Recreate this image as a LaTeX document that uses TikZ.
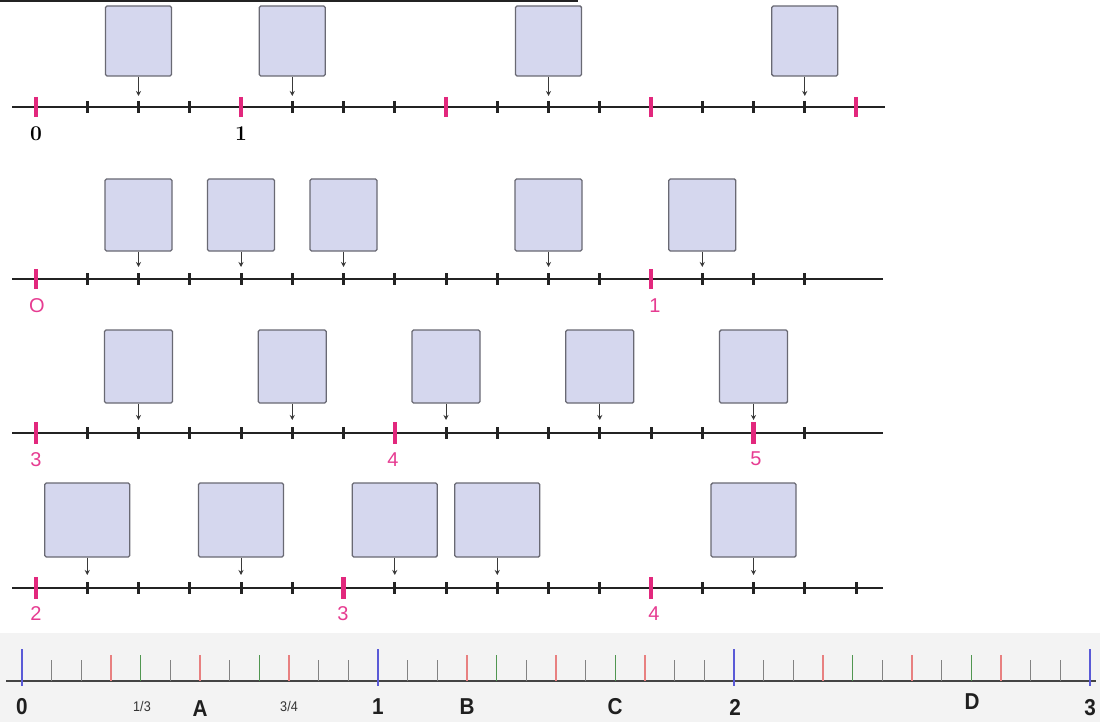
\documentclass[tikz,border=0pt]{standalone}
\usepackage{fontspec}
\newfontfamily\arialf{Liberation Sans}
\usetikzlibrary{arrows.meta}
\definecolor{pinkc}{RGB}{226,40,125}
\definecolor{pinklab}{RGB}{230,60,145}
\definecolor{boxfill}{RGB}{213,215,238}
\definecolor{boxline}{RGB}{105,105,115}
\definecolor{axisc}{RGB}{35,35,35}
\definecolor{bandc}{RGB}{243,243,243}
\definecolor{bluet}{RGB}{90,90,215}
\definecolor{redt}{RGB}{232,128,128}
\definecolor{greent}{RGB}{80,150,80}
\definecolor{grayt}{RGB}{130,130,130}
\tikzset{
  axis/.style={draw=axisc, line width=2.2pt},
  btick/.style={draw=axisc, line width=3pt},
  ptick/.style={draw=pinkc, line width=4.5pt},
  qbox/.style={draw=boxline, fill=boxfill, line width=1.4pt, rounded corners=1.5pt, inner sep=0pt, minimum width=#1, minimum height=71pt},
  arr/.style={draw=axisc!90, line width=1pt, -{Stealth[length=5pt,width=5pt]}},
  blab/.style={font=\fontsize{21}{21}\selectfont\bfseries, text=black, inner sep=0pt},
  plab/.style={font=\arialf\fontsize{20}{20}\selectfont, text=pinklab, inner sep=0pt},
  rlab/.style={font=\arialf\fontsize{23}{23}\selectfont\bfseries, text=black!88, inner sep=0pt, xscale=0.9},
  flab/.style={font=\arialf\fontsize{14}{14}\selectfont, text=black!80, inner sep=0pt, xscale=0.9},
  rmaj/.style={draw=bluet, line width=2.6pt},
  rmin/.style={line width=1.4pt}
}
\begin{document}
\begin{tikzpicture}[x=1pt,y=-1pt]
\useasboundingbox (0,0) rectangle (1100,722);
\def\sp{51.25}
% top rule
\draw[draw=axisc, line width=2pt] (0,1) -- (578,1);

% ---------- Row 1 ----------
\draw[axis] (12,107) -- (885,107);
\foreach \k in {0,...,16} {\draw[btick] ({36+\sp*\k},101) -- ({36+\sp*\k},113);}
\foreach \k in {0,4,8,12,16} {\draw[ptick] ({36+\sp*\k},97) -- ({36+\sp*\k},117);}
\foreach \k/\n in {2/a,5/b,10/c,15/d} {
  \node[qbox=66pt, minimum height=70pt] (r1\n) at ({36+\sp*\k},41) {};
  \coordinate (t1\n) at ({36+\sp*\k},96);
  \draw[arr] (r1\n.south) -- (t1\n);
}
\node[blab] (l1a) at (36,134) {0};
\node[blab] (l1b) at (241,134) {1};

% ---------- Row 2 ----------
\draw[axis] (12,279) -- (883,279);
\foreach \k in {0,...,15} {\draw[btick] ({36+\sp*\k},273) -- ({36+\sp*\k},285);}
\foreach \k in {0,12} {\draw[ptick] ({36+\sp*\k},269) -- ({36+\sp*\k},289);}
\foreach \k/\n in {2/a,4/b,6/c,10/d,13/e} {
  \node[qbox=67pt, minimum height=72pt] (r2\n) at ({36+\sp*\k},215) {};
  \coordinate (t2\n) at ({36+\sp*\k},267);
  \draw[arr] (r2\n.south) -- (t2\n);
}
\node[plab] (l2a) at (37,306) {O};
\node[plab] (l2b) at (655,306) {1};

% ---------- Row 3 ----------
\draw[axis] (12,433) -- (883,433);
\foreach \k in {0,...,15} {\draw[btick] ({36+\sp*\k},427) -- ({36+\sp*\k},439);}
\foreach \k in {0,7,14} {\draw[ptick] ({36+\sp*\k},422) -- ({36+\sp*\k},444);}
\foreach \k/\n in {2/a,5/b,8/c,11/d,14/e} {
  \node[qbox=68pt, minimum height=73pt] (r3\n) at ({36+\sp*\k},366.5) {};
  \coordinate (t3\n) at ({36+\sp*\k},420);
  \draw[arr] (r3\n.south) -- (t3\n);
}
\node[plab] (l3a) at (36,460) {3};
\node[plab] (l3b) at (393,460) {4};
\node[plab] (l3c) at (756,459) {5};

% ---------- Row 4 ----------
\draw[axis] (12,588) -- (883,588);
\foreach \k in {0,...,16} {\draw[btick] ({36+\sp*\k},582) -- ({36+\sp*\k},594);}
\foreach \k in {0,6,12} {\draw[ptick] ({36+\sp*\k},577) -- ({36+\sp*\k},599);}
\foreach \k/\n in {1/a,4/b,7/c,9/d,14/e} {
  \node[qbox=85pt, minimum height=74pt] (r4\n) at ({36+\sp*\k},520) {};
  \coordinate (t4\n) at ({36+\sp*\k},575);
  \draw[arr] (r4\n.south) -- (t4\n);
}
\node[plab] (l4a) at (36,614) {2};
\node[plab] (l4b) at (343,614) {3};
\node[plab] (l4c) at (654,614) {4};

% ---------- Bottom ruler ----------
\fill[bandc] (0,633) rectangle (1100,722);
\def\u{356}
\draw[draw=axisc!85, line width=1.5pt] (6,681) -- (1096,681);
\foreach \m in {0,1,2} {
  \foreach \j in {1,2,5,7,10,11} {\draw[rmin, draw=grayt] ({22+\u*\m+\u/12*\j},660) -- ({22+\u*\m+\u/12*\j},681);}
  \foreach \j in {3,6,9} {\draw[rmin, draw=redt] ({22+\u*\m+\u/12*\j},655) -- ({22+\u*\m+\u/12*\j},681);}
  \foreach \j in {4,8} {\draw[rmin, draw=greent] ({22+\u*\m+\u/12*\j},655) -- ({22+\u*\m+\u/12*\j},681);}
}
\foreach \m in {0,1,2,3} {\draw[rmaj] ({22+\u*\m},649) -- ({22+\u*\m},686);}
\node[rlab] (b0) at (22,707) {0};
\node[rlab] (b1) at (378,707) {1};
\node[rlab] (b2) at (735,707) {2};
\node[rlab] (b3) at (1090,708) {3};
\node[rlab] (bA) at (200,709) {A};
\node[rlab] (bB) at (467,707) {B};
\node[rlab] (bC) at (615,707) {C};
\node[rlab] (bD) at (972,702) {D};
\node[flab] (f13) at (142,706) {1/3};
\node[flab] (f34) at (289,706) {3/4};
\end{tikzpicture}
\end{document}
